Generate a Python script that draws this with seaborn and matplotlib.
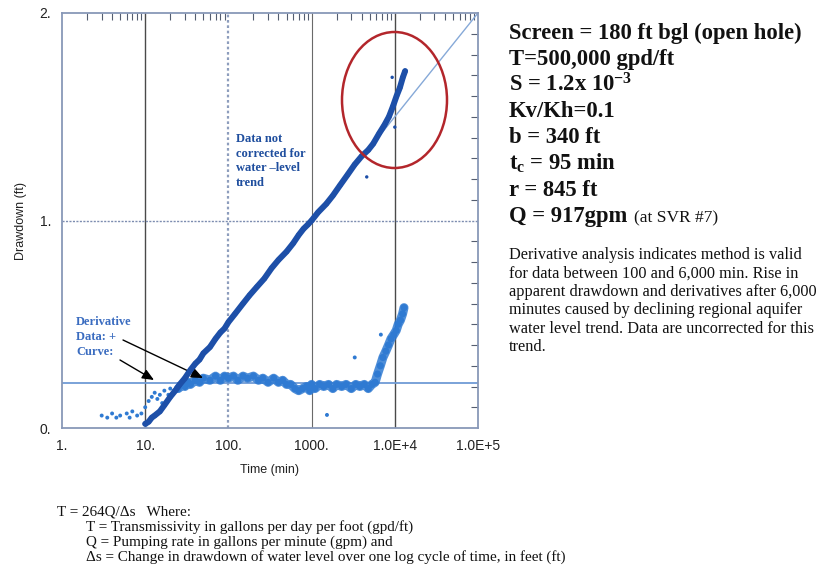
import matplotlib
matplotlib.use("Agg")
import matplotlib.pyplot as plt
import seaborn as sns
import pandas as pd
from matplotlib.patches import Ellipse
from matplotlib.ticker import FixedLocator, FixedFormatter, NullFormatter

# ---------------- data ----------------
# drawdown data (time in min, drawdown in ft)
dd_t = [10, 11, 12, 13, 15, 17, 20, 23, 26, 30, 35, 40, 45, 50, 60, 70, 80, 90,
        100, 120, 150, 180, 220, 270, 330, 400, 500, 600, 700, 800, 900, 1000,
        1200, 1500, 1800, 2200, 2700, 3300, 4000, 4800, 5500, 6500, 7500, 8500,
        9500, 10500, 11500, 12500, 13300]
dd_s = [0.02, 0.03, 0.05, 0.06, 0.08, 0.11, 0.15, 0.18, 0.21, 0.24, 0.28, 0.31,
        0.33, 0.36, 0.39, 0.43, 0.46, 0.48, 0.51, 0.55, 0.60, 0.64, 0.68, 0.72,
        0.77, 0.81, 0.85, 0.89, 0.93, 0.96, 0.98, 1.00, 1.04, 1.08, 1.12, 1.17,
        1.22, 1.27, 1.31, 1.34, 1.37, 1.42, 1.46, 1.50, 1.55, 1.60, 1.64, 1.69,
        1.72]
# drawdown outliers
dd_out_t = [4600, 9300, 10000]
dd_out_s = [1.21, 1.69, 1.45]

# derivative data
dv_t = [25, 28, 30, 33, 35, 40, 45, 50, 60, 70, 80, 90, 100, 115, 130, 150, 170,
        200, 230, 260, 300, 350, 400, 450, 500, 560, 630, 700, 780, 870, 950,
        1000, 1100, 1250, 1400, 1600, 1800, 2000, 2300, 2600, 3000, 3400, 3800,
        4300, 4800, 5300, 5800, 6200, 6700, 7200, 7800, 8400, 9000, 9700, 10400,
        11000, 11700, 12400, 12900]
dv_s = [0.19, 0.21, 0.20, 0.22, 0.21, 0.23, 0.22, 0.24, 0.23, 0.25, 0.23, 0.25,
        0.24, 0.25, 0.23, 0.25, 0.24, 0.25, 0.23, 0.24, 0.22, 0.24, 0.22, 0.23,
        0.21, 0.21, 0.19, 0.18, 0.19, 0.20, 0.18, 0.21, 0.19, 0.21, 0.20, 0.21,
        0.19, 0.21, 0.20, 0.21, 0.19, 0.21, 0.20, 0.21, 0.19, 0.21, 0.22, 0.26,
        0.30, 0.34, 0.37, 0.40, 0.43, 0.45, 0.47, 0.50, 0.52, 0.55, 0.58]
# scattered early derivative points
dv_early_t = [3, 3.5, 4, 4.5, 5, 6, 6.5, 7, 8, 9, 10, 11, 12, 13, 14, 15, 16,
              17, 19, 20, 22]
dv_early_s = [0.06, 0.05, 0.07, 0.05, 0.06, 0.07, 0.05, 0.08, 0.06, 0.07, 0.10,
              0.13, 0.15, 0.17, 0.14, 0.16, 0.12, 0.18, 0.16, 0.19, 0.18]
# derivative outliers
dv_out_t = [1530, 3300, 6800]
dv_out_s = [0.063, 0.34, 0.45]

# fitted curve (Cooper-Jacob straight line) and its derivative
fit_t = [10, 100000]
fit_s = [0.0, 2.0]
dfit_t = [1, 100000]
dfit_s = [0.217, 0.217]

x_ticks = [1, 10, 100, 1000, 10000, 100000]
x_labels = ["1.", "10.", "100.", "1000.", "1.0E+4", "1.0E+5"]
y_ticks = [0, 1, 2]
y_labels = ["0.", "1.", "2."]

params = [
    "Screen = 180 ft bgl (open hole)",
    "T=500,000 gpd/ft",
    "S = 1.2x 10$^{\\mathregular{-3}}$",
    "Kv/Kh=0.1",
    "b = 340 ft",
    "t$_{\\mathregular{c}}$ = 95 min",
    "r = 845 ft",
    "Q = 917gpm",
]
note_lines = [
    "Derivative analysis indicates method is valid",
    "for data between 100 and 6,000 min. Rise in",
    "apparent drawdown and derivatives after 6,000",
    "minutes caused by declining regional aquifer",
    "water level trend. Data are uncorrected for this",
    "trend.",
]
formula_lines = [
    "T = 264Q/\u0394s   Where:",
    "T = Transmissivity in gallons per day per foot (gpd/ft)",
    "Q = Pumping rate in gallons per minute (gpm) and",
    "\u0394s = Change in drawdown of water level over one log cycle of time, in feet (ft)",
]

# ---------------- styling ----------------
sns.set_style("white")
plt.rcParams["font.family"] = ["Liberation Sans", "DejaVu Sans"]
plt.rcParams["mathtext.fontset"] = "custom"
plt.rcParams["mathtext.rm"] = "Liberation Serif:bold"
plt.rcParams["mathtext.it"] = "Liberation Serif:bold"
plt.rcParams["mathtext.bf"] = "Liberation Serif:bold"

W, H = 821, 573
fig = plt.figure(figsize=(W / 100, H / 100), dpi=100)
ax = fig.add_axes([62 / W, (H - 428) / H, 416 / W, 415 / H])

dd_col = "#1d4fa8"
dv_col = "#2f7ad2"
curve_col = "#86a9d8"
frame_col = "#8898b8"

ax.set_xscale("log")
ax.set_xlim(1, 1e5)
ax.set_ylim(0, 2)

# grid-like reference lines
ax.axvline(10, color="#4a4a4a", lw=1.0, zorder=1)
ax.axvline(100, color="#8d9dbd", lw=1.6, ls=(0, (1.2, 1.2)), zorder=1)
ax.axvline(1000, color="#6a6a6a", lw=0.8, zorder=1)
ax.axvline(10000, color="#4a4a4a", lw=1.0, zorder=1)
ax.axhline(1.0, color="#7d8db0", lw=1.0, ls=(0, (1.5, 1.0)), zorder=1)

# curves
sns.lineplot(x=dfit_t, y=dfit_s, ax=ax, color="#6f9bd6", lw=1.3, zorder=2)
sns.lineplot(x=fit_t, y=fit_s, ax=ax, color=curve_col, lw=1.0, zorder=2)

# derivative data
sns.lineplot(x=dv_t, y=dv_s, ax=ax, color=dv_col, lw=6.5, alpha=0.85, zorder=3)
sns.scatterplot(x=dv_t, y=dv_s, ax=ax, color=dv_col, s=26, edgecolor="none",
                zorder=3, legend=False)
sns.scatterplot(x=dv_early_t, y=dv_early_s, ax=ax, color=dv_col, s=8,
                marker="o", edgecolor="none", zorder=3, legend=False)
sns.scatterplot(x=dv_out_t, y=dv_out_s, ax=ax, color=dv_col, s=8,
                edgecolor="none", zorder=3, legend=False)

# drawdown data
sns.lineplot(x=dd_t, y=dd_s, ax=ax, color=dd_col, lw=4.3, zorder=4)
sns.scatterplot(x=dd_t, y=dd_s, ax=ax, color=dd_col, s=14, edgecolor="none",
                zorder=4, legend=False)
sns.scatterplot(x=dd_out_t, y=dd_out_s, ax=ax, color=dd_col, s=6,
                edgecolor="none", zorder=4, legend=False)

# ticks
ax.xaxis.set_major_locator(FixedLocator(x_ticks))
ax.xaxis.set_major_formatter(FixedFormatter(x_labels))
minors = [m * 10 ** e for e in range(0, 5) for m in range(2, 10)]
ax.xaxis.set_minor_locator(FixedLocator(minors))
ax.xaxis.set_minor_formatter(NullFormatter())
ax.yaxis.set_major_locator(FixedLocator(y_ticks))
ax.yaxis.set_major_formatter(FixedFormatter(y_labels))
ax.yaxis.set_minor_locator(FixedLocator([i / 10 for i in range(1, 20)]))
ax.tick_params(which="both", direction="in", top=True, right=True,
               color="#555e70", labelsize=10, labelcolor="#222222")
ax.tick_params(which="major", length=0, pad=8)
ax.tick_params(which="minor", length=5, width=0.8)
for sp in ax.spines.values():
    sp.set_color(frame_col)
    sp.set_linewidth(1.3)

ax.set_xlabel("Time (min)", fontsize=9, color="#222222", labelpad=8)
ax.set_ylabel("Drawdown (ft)", fontsize=9, color="#222222", labelpad=9)

# red ellipse
ax.add_patch(Ellipse(((394.5 - 62) / 416, (428 - 100) / 415), 105 / 416,
                     136 / 415, transform=ax.transAxes, fill=False,
                     edgecolor="#b3262b", lw=1.8, zorder=6))


def fx(x):
    return x / W


def fy(y):
    return 1 - y / H


# annotation inside the plot
for i, line in enumerate(["Data not", "corrected for", "water \u2013level", "trend"]):
    fig.text(fx(236), fy(142 + 14.6 * i), line, family="Liberation Serif",
             weight="bold", fontsize=9, color="#1f4e9e", va="baseline")
for i, line in enumerate(["Derivative", "Data: +", "Curve:"]):
    fig.text(fx(76), fy(325 + 15 * i), line, family="Liberation Serif",
             weight="bold", fontsize=9, color="#3a6cc0", va="baseline")

arrow = dict(arrowstyle="-|>,head_length=0.7,head_width=0.3", color="black",
             lw=1.0, shrinkA=0, shrinkB=0)
ax.annotate("", xy=(203, H - 378), xytext=(123, H - 340),
            xycoords="figure pixels", textcoords="figure pixels",
            arrowprops=arrow)
ax.annotate("", xy=(154, H - 380), xytext=(120, H - 360),
            xycoords="figure pixels", textcoords="figure pixels",
            arrowprops=arrow)

# parameter list on the right
for i, line in enumerate(params):
    fig.text(fx(509), fy(39 + 26.1 * i), line, family="Liberation Serif",
             weight="bold", fontsize=16.3, color="#111111", va="baseline")
fig.text(fx(634), fy(222), "(at SVR #7)", family="Liberation Serif",
         fontsize=12.5, color="#111111", va="baseline")

for i, line in enumerate(note_lines):
    fig.text(fx(509), fy(259 + 18.4 * i), line, family="Liberation Serif",
             fontsize=11.7, color="#111111", va="baseline")

for i, line in enumerate(formula_lines):
    x0 = 57 if i == 0 else 86
    fig.text(fx(x0), fy(516 + 15 * i), line, family="Liberation Serif",
             fontsize=10.9, color="#111111", va="baseline")

fig.savefig("out.png", dpi=100)
